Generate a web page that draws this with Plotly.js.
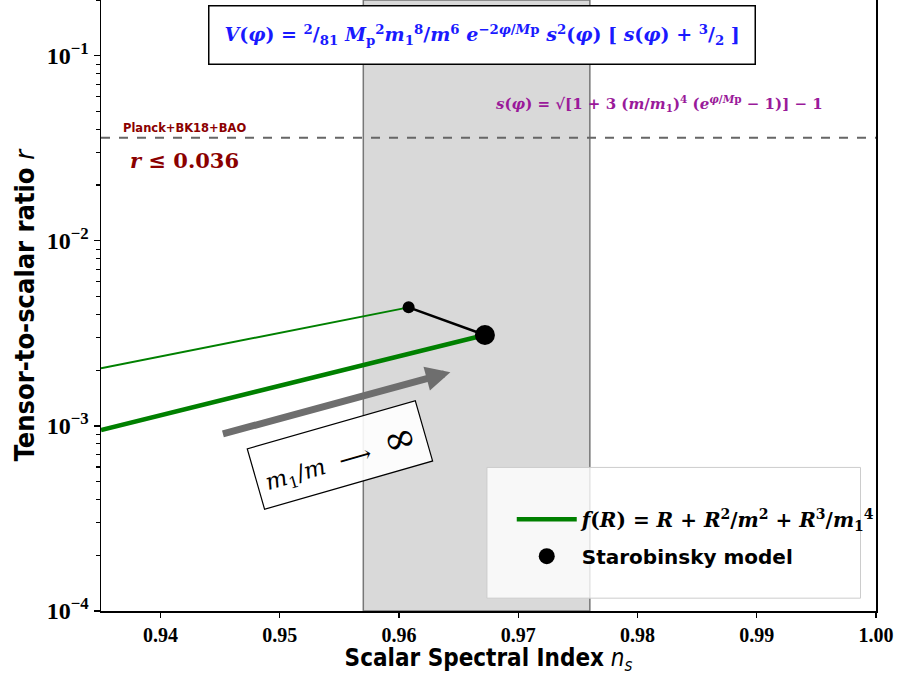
<!DOCTYPE html>
<html>
<head>
<meta charset="utf-8">
<script src="https://cdn.plot.ly/plotly-3.0.1.min.js"></script>
<style>html,body{margin:0;padding:0;background:#fff;}#chart{width:898px;height:675px;}</style>
</head>
<body>
<div id="chart"></div>
<script>
// ---- data ----
const fRthickNs = [0.935, 0.9511, 0.9672];
const fRthickR  = [0.00095, 0.00171, 0.0031];
const fRthinNs  = [0.935, 0.9479, 0.9608];
const fRthinR   = [0.00205, 0.00299, 0.00437];
const linkNs    = [0.9608, 0.9672];
const linkR     = [0.00437, 0.0031];
const staroNs   = [0.9672];
const staroR    = [0.0031];
const smallDotNs = [0.9608];
const smallDotR  = [0.00437];
const planckR   = 0.036;
const nsBand    = [0.957, 0.976];
const arrowFrom = [0.9451, 0.0009];
const arrowTo   = [0.9643, 0.00195];
const xTicks    = [0.94, 0.95, 0.96, 0.97, 0.98, 0.99, 1.00];
const yTicks    = [1e-4, 1e-3, 1e-2, 1e-1];
const yTickText = ["10<sup>−4</sup>", "10<sup>−3</sup>", "10<sup>−2</sup>", "10<sup>−1</sup>"];
const yMinor = [];
[1e-4, 1e-3, 1e-2, 1e-1].forEach(d => { for (let k = 2; k <= 9; k++) { if (d*k <= 0.2) yMinor.push(d*k); } });

const serif = "DejaVu Serif";
const tickSerif = "Liberation Serif";
const sans = "DejaVu Sans";
const cond = "Liberation Sans Narrow, DejaVu Sans Condensed, DejaVu Sans";

const traces = [
  {x: fRthinNs, y: fRthinR, mode: 'lines', line: {color: '#008000', width: 2}, showlegend: false, hoverinfo: 'skip'},
  {x: fRthickNs, y: fRthickR, mode: 'lines', line: {color: '#008000', width: 4.5}, legendgroup: 'a',
   name: '<b><i>f</i>(<i>R</i>) = <i>R</i> + <i>R</i><sup>2</sup>/<i>m</i><sup>2</sup> + <i>R</i><sup>3</sup>/<i>m</i><sub>1</sub><sup>4</sup></b>',
   legendrank: 1},
  {x: linkNs, y: linkR, mode: 'lines', line: {color: 'black', width: 2.5}, showlegend: false},
  {x: smallDotNs, y: smallDotR, mode: 'markers', marker: {color: 'black', size: 12}, showlegend: false},
  {x: staroNs, y: staroR, mode: 'markers', marker: {color: 'black', size: 20}, legendgroup: 'b',
   name: '<span style="font-family:DejaVu Sans"><b>Starobinsky model</b></span>', legendrank: 2}
];

const layout = {
  width: 898, height: 675,
  margin: {l: 101, r: 22, t: 0, b: 64},
  font: {family: tickSerif, size: 20, color: 'black', weight: 'bold'},
  paper_bgcolor: 'white', plot_bgcolor: 'white',
  showlegend: true,
  legend: {x: 0.53, y: 0.12, xanchor: 'left', yanchor: 'middle', bgcolor: 'rgba(0,0,0,0)', borderwidth: 0,
           font: {family: serif, size: 20, color: 'black', weight: 'normal'}, itemwidth: 60, tracegroupgap: 8},
  xaxis: {range: [0.935, 1.0], tickvals: xTicks, ticktext: xTicks.map(v => v.toFixed(2)),
          ticks: 'outside', ticklen: 5, tickwidth: 1.2, tickcolor: 'black',
          showline: true, linecolor: 'black', linewidth: 1.5, mirror: true, showgrid: false, zeroline: false,
          tickfont: {family: tickSerif, size: 20, color: 'black', weight: 'bold'},
          title: {text: '<b>Scalar Spectral Index</b> <i>n<sub>s</sub></i>', font: {family: cond, size: 24, color: 'black', weight: 'normal'}, standoff: 7}},
  yaxis: {type: 'log', range: [-4, Math.log10(0.2)], tickvals: yTicks, ticktext: yTickText,
          ticks: 'outside', ticklen: 6, tickwidth: 1.2, tickcolor: 'black',
          minor: {tickvals: yMinor, ticks: 'outside', ticklen: 3.5, tickcolor: 'black', showgrid: false},
          showline: true, linecolor: 'black', linewidth: 1.5, mirror: true, showgrid: false, zeroline: false,
          tickfont: {family: tickSerif, size: 24, color: 'black', weight: 'bold'},
          title: {text: '<b>Tensor-to-scalar ratio</b> <i>r</i>', font: {family: cond, size: 27, color: 'black', weight: 'normal'}, standoff: 4}},
  shapes: [
    {type: 'rect', xref: 'x', yref: 'paper', x0: nsBand[0], x1: nsBand[1], y0: 0, y1: 1,
     fillcolor: '#d9d9d9', line: {color: '#777', width: 1.5}, layer: 'below'},
    {type: 'line', xref: 'paper', yref: 'y', x0: 0, x1: 1, y0: planckR, y1: planckR,
     line: {color: '#666', width: 2, dash: 'dash'}},
    {type: 'rect', xref: 'paper', yref: 'paper', x0: 0.498, x1: 0.980, y0: 0.021, y1: 0.235,
     fillcolor: 'rgba(255,255,255,0.8)', line: {color: '#cccccc', width: 1}, layer: 'above'}
  ],
  annotations: [
    {xref: 'paper', yref: 'paper', x: 0.4916, y: 0.943, xanchor: 'center', yanchor: 'middle', showarrow: false,
     text: '<b><i>V</i>(<i>φ</i>) = <sup>2</sup>/<sub>81</sub> <i>M</i><sub>p</sub><sup>2</sup><i>m</i><sub>1</sub><sup>8</sup>/<i>m</i><sup>6</sup> <i>e</i><sup>−2<i>φ</i>/<i>M</i>p</sup> <i>s</i><sup>2</sup>(<i>φ</i>) [ <i>s</i>(<i>φ</i>) + <sup>3</sup>/<sub>2</sub> ]</b>',
     font: {family: serif, size: 19, color: '#1a1aff', weight: 'normal'}, bgcolor: 'white', bordercolor: 'black', borderwidth: 1.5, borderpad: 15},
    {xref: 'paper', yref: 'paper', x: 0.721, y: 0.831, xanchor: 'center', yanchor: 'middle', showarrow: false,
     text: '<b><i>s</i>(<i>φ</i>) = √[1 + 3 (<i>m</i>/<i>m</i><sub>1</sub>)<sup>4</sup> (<i>e</i><sup><i>φ</i>/<i>M</i>p</sup> − 1)] − 1</b>',
     font: {family: serif, size: 15, color: '#9a1a9a', weight: 'normal'}},
    {xref: 'paper', yref: 'paper', x: 0.108, y: 0.790, xanchor: 'center', yanchor: 'middle', showarrow: false,
     text: '<b>Planck+BK18+BAO</b>', font: {family: sans, size: 11.5, color: '#8b0000', weight: 'normal'}},
    {xref: 'paper', yref: 'paper', x: 0.108, y: 0.738, xanchor: 'center', yanchor: 'middle', showarrow: false,
     text: '<b><i>r</i> ≤ 0.036</b>', font: {family: serif, size: 21, color: '#8b0000', weight: 'normal'}},
    {xref: 'x', yref: 'y', axref: 'x', ayref: 'y',
     x: arrowTo[0], y: Math.log10(arrowTo[1]), ax: arrowFrom[0], ay: Math.log10(arrowFrom[1]),
     showarrow: true, arrowhead: 2, arrowsize: 0.7, arrowwidth: 7, arrowcolor: '#6e6e6e', text: ''},
    {xref: 'paper', yref: 'paper', x: 0.308, y: 0.255, xanchor: 'center', yanchor: 'middle', showarrow: false, textangle: -16,
     text: '<i>m</i><sub>1</sub>/<i>m</i>  ⟶  <span style="font-size:40px">∞</span>',
     font: {family: serif, size: 23, color: 'black', weight: 'normal'}, bgcolor: 'rgba(255,255,255,0.9)', bordercolor: 'black', borderwidth: 1.2, borderpad: 8}
  ]
};

Plotly.newPlot('chart', traces, layout, {displayModeBar: false, staticPlot: true});
</script>
</body>
</html>
